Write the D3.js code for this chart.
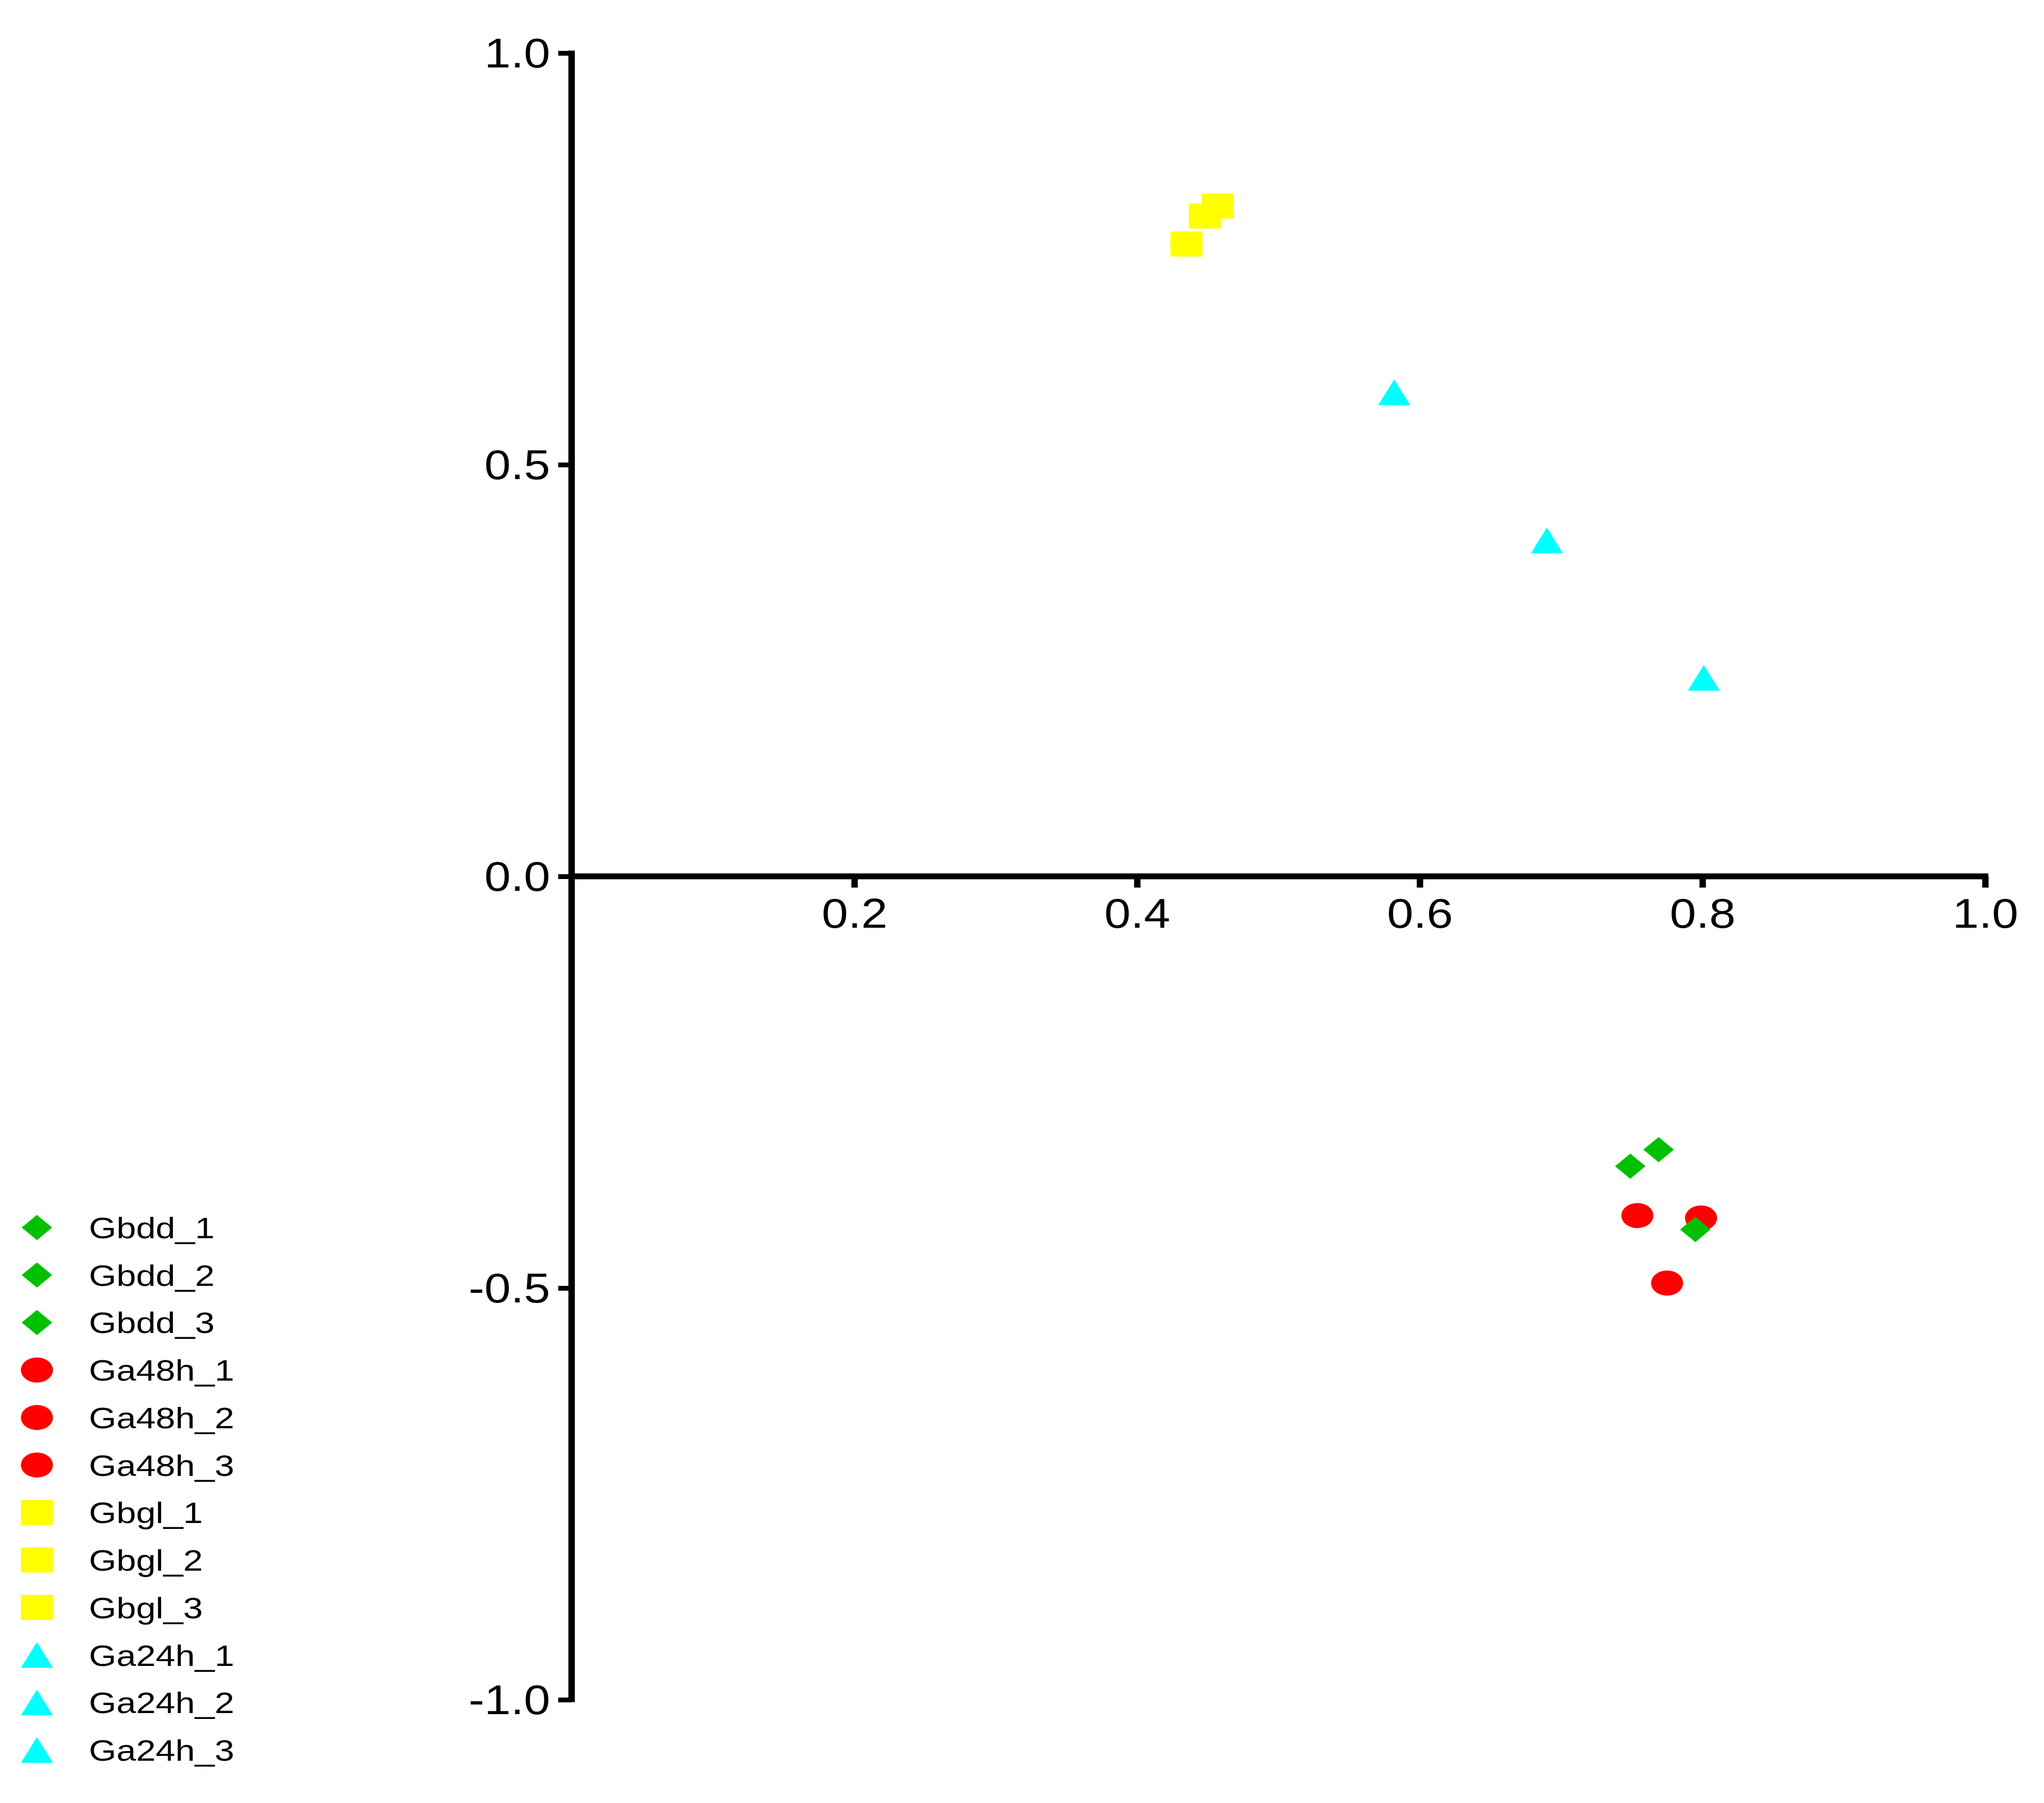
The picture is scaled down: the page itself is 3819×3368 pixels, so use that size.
<!DOCTYPE html>
<html>
<head>
<meta charset="utf-8">
<script src="https://cdn.jsdelivr.net/npm/d3@7"></script>
<style>
  body { margin: 0; background: #fff; }
  svg { display: block; font-family: "Liberation Sans", Arial, sans-serif; }
</style>
</head>
<body>
<div id="plot"></div>
<script>
// sample names, in legend order
const samples = ["Gbdd_1", "Gbdd_2", "Gbdd_3",
                 "Ga48h_1", "Ga48h_2", "Ga48h_3",
                 "Gbgl_1", "Gbgl_2", "Gbgl_3",
                 "Ga24h_1", "Ga24h_2", "Ga24h_3"];
// component 1 (x) and component 2 (y)
const comp1 = [0.749, 0.769, 0.795,
               0.754, 0.799, 0.775,
               0.435, 0.448, 0.457,
               0.582, 0.690, 0.801];
const comp2 = [-0.352, -0.332, -0.429,
               -0.412, -0.415, -0.494,
               0.768, 0.802, 0.814,
               0.588, 0.408, 0.241];
const groups = ["Gbdd", "Ga48h", "Gbgl", "Ga24h"];
const groupColors = ["#00c000", "#ff0000", "#ffff00", "#00ffff"];
const groupShapes = ["diamond", "circle", "square", "triangle"];
const xTicks = [0.2, 0.4, 0.6, 0.8, 1.0];
const yTicks = [-1.0, -0.5, 0.0, 0.5, 1.0];

const width = 3819, height = 3368;
const textStretch = 1.15; // the original is a little wide

const data = samples.map((name, i) => ({
  name: name,
  group: name.split("_")[0],
  x: comp1[i],
  y: comp2[i]
}));

const x = d3.scaleLinear().domain([0, 1]).range([1068, 3709]);
const y = d3.scaleLinear().domain([-1, 1]).range([3175, 99]);
const color = d3.scaleOrdinal(groups, groupColors);
const shape = d3.scaleOrdinal(groups, groupShapes);

// marker outline of w x h, centred on 0,0
function marker(kind, w, h) {
  const a = w / 2, b = h / 2;
  if (kind === "diamond") return `M0,${-b}L${a},0L0,${b}L${-a},0Z`;
  if (kind === "square") return `M${-a},${-b}H${a}V${b}H${-a}Z`;
  if (kind === "triangle") return `M0,${-b}L${a},${b}H${-a}Z`;
  return `M${-a},0A${a},${b} 0 1,0 ${a},0A${a},${b} 0 1,0 ${-a},0Z`;
}
const markW = {diamond: 57, circle: 60, square: 60, triangle: 60};
const markH = {diamond: 47, circle: 47, square: 47, triangle: 48};
const markPath = g => marker(shape(g), markW[shape(g)], markH[shape(g)]);

const svg = d3.select("#plot").append("svg")
  .attr("width", width)
  .attr("height", height)
  .attr("viewBox", [0, 0, width, height]);

// y axis
svg.append("g")
  .attr("transform", `translate(${x(0)},0)`)
  .call(d3.axisLeft(y).tickValues(yTicks).tickFormat(d3.format(".1f"))
    .tickSize(25).tickSizeOuter(0).tickPadding(15))
  .call(g => g.select(".domain").remove())
  .call(g => g.selectAll(".tick line").attr("stroke", "#000").attr("stroke-width", 9))
  .call(g => g.selectAll(".tick text")
    .attr("fill", "#000")
    .attr("font-size", 77)
    .attr("x", -40 / textStretch)
    .attr("dy", "0.34em")
    .attr("transform", `scale(${textStretch},1)`)
    .text(d => d3.format(".1f")(d).replace("−", "-")));

// x axis
svg.append("g")
  .attr("transform", `translate(0,${y(0)})`)
  .call(d3.axisBottom(x).tickValues(xTicks).tickFormat(d3.format(".1f"))
    .tickSize(21).tickSizeOuter(0).tickPadding(20))
  .call(g => g.select(".domain").remove())
  .call(g => g.selectAll(".tick line").attr("stroke", "#000").attr("stroke-width", 12))
  .call(g => g.selectAll(".tick text")
    .attr("fill", "#000")
    .attr("font-size", 77)
    .attr("transform", `scale(${textStretch},1)`));

// axis lines
svg.append("line")
  .attr("x1", x(0)).attr("x2", x(0))
  .attr("y1", y(1) - 4.5).attr("y2", y(-1) + 4.5)
  .attr("stroke", "#000").attr("stroke-width", 12);
svg.append("line")
  .attr("x1", x(0)).attr("x2", x(1) + 6)
  .attr("y1", y(0)).attr("y2", y(0))
  .attr("stroke", "#000").attr("stroke-width", 11);

// points, later groups drawn first so diamonds sit on top
const order = groups.slice().reverse();
svg.append("g")
  .selectAll("path")
  .data(data.slice().sort((a, b) => order.indexOf(a.group) - order.indexOf(b.group)))
  .join("path")
  .attr("transform", d => `translate(${x(d.x)},${y(d.y)})`)
  .attr("d", d => markPath(d.group))
  .attr("fill", d => color(d.group));

// legend
const row = d3.scaleLinear().domain([0, samples.length - 1]).range([2293, 3269]);
const legend = svg.append("g")
  .selectAll("g")
  .data(data)
  .join("g")
  .attr("transform", (d, i) => `translate(69,${row(i)})`);
legend.append("path")
  .attr("d", d => markPath(d.group))
  .attr("fill", d => color(d.group));
legend.append("text")
  .attr("transform", `translate(97,20) scale(1.18,1)`)
  .attr("font-size", 56)
  .attr("fill", "#000")
  .text(d => d.name);
</script>
</body>
</html>
